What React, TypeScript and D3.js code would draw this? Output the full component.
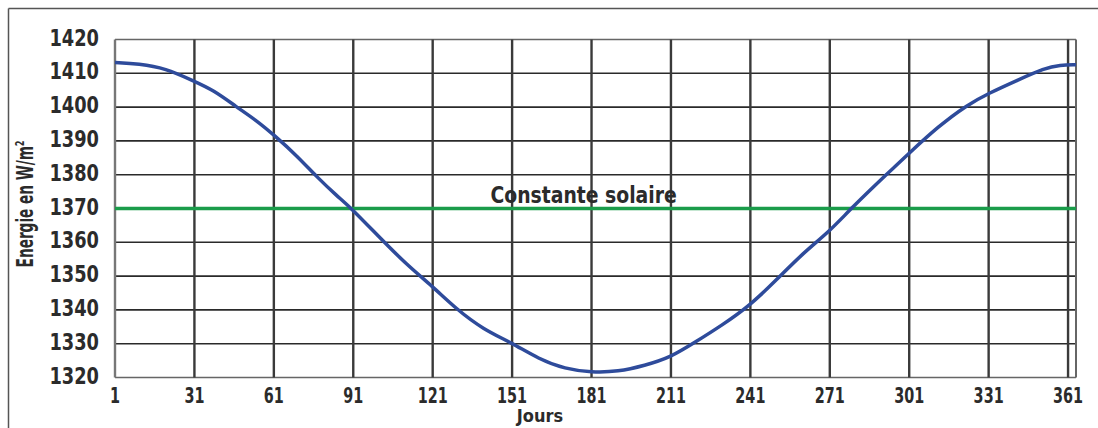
import * as d3 from 'd3';

// days of year and solar energy received (W/m²)
const DAYS = [1, 10, 20, 31, 38, 47, 54, 61, 70, 77, 85, 90, 101, 111, 121, 130, 140, 151, 161, 171, 181, 191, 201, 211, 220, 230, 241, 251, 261, 271, 279, 293, 301, 312, 323, 331, 342, 352, 358, 364];
const ENERGY = [1413.2, 1412.8, 1411.5, 1407.6, 1405.1, 1400, 1396.3, 1391.8, 1385.4, 1379.5, 1373.6, 1370.3, 1361.4, 1353.5, 1346.9, 1340.2, 1334.3, 1330.2, 1325.5, 1322.5, 1321.5, 1321.7, 1323.5, 1326, 1330.4, 1335.3, 1341.4, 1349, 1356.9, 1363.3, 1370, 1380.5, 1386.4, 1394.3, 1400.7, 1404.1, 1408, 1411.5, 1412.5, 1412.5];
const X_TICKS = [1, 31, 61, 91, 121, 151, 181, 211, 241, 271, 301, 331, 361];
const Y_TICKS = [1320, 1330, 1340, 1350, 1360, 1370, 1380, 1390, 1400, 1410, 1420];
const SOLAR_CONSTANT = 1370;
const SOLAR_LABEL = 'Constante solaire';
const X_TITLE = 'Jours';
const Y_TITLE = 'Energie en W/m';

const W = 1098;
const H = 428;
const FONT = '"DejaVu Sans Condensed", "DejaVu Sans", sans-serif';
const INK = '#2b2b2b';

// condensed bold label, squeezed with a scale like the original's narrow face
function Label({ x, y, sx = 1, sy = 1, size, anchor = 'middle', rotate = 0, children }: any) {
  return (
    <g transform={`translate(${x},${y}) rotate(${rotate}) scale(${sx},${sy})`}>
      <text textAnchor={anchor} fontFamily={FONT} fontWeight="bold" fontSize={size} fill={INK}>
        {children}
      </text>
    </g>
  );
}

export default function App() {
  const x = d3.scaleLinear().domain([1, 364]).range([115, 1076]);
  const y = d3.scaleLinear().domain([1320, 1420]).range([377.5, 39.5]);

  const points = DAYS.map((d, i) => [d, ENERGY[i]] as [number, number]);
  const line = d3.line<[number, number]>()
    .x(d => x(d[0]))
    .y(d => y(d[1]))
    .curve(d3.curveBasis);

  const [x0, x1] = x.range();

  return (
    <svg width={W} height={H} style={{ position: 'absolute', left: 0, top: 0, background: '#fff' }}>
      {/* outer frame */}
      <line x1={8.5} y1={8.5} x2={W} y2={8.5} stroke="#555" strokeWidth={1.5} />
      <line x1={8.5} y1={8.5} x2={8.5} y2={H} stroke="#555" strokeWidth={1.5} />

      {/* horizontal grid */}
      {Y_TICKS.map(t => (
        <line key={'h' + t} x1={x0} x2={x1} y1={y(t)} y2={y(t)}
          stroke={t === 1420 || t === 1320 ? '#666' : '#2a2a2a'} strokeWidth={1.6} />
      ))}
      {/* vertical grid */}
      {X_TICKS.map(t => (
        <line key={'v' + t} x1={x(t)} x2={x(t)} y1={y(1420)} y2={y(1320)}
          stroke={t === 1 ? '#777' : '#3a3a3a'} strokeWidth={2.4} />
      ))}
      <line x1={x1} x2={x1} y1={y(1420)} y2={y(1320)} stroke="#666" strokeWidth={2} />

      {/* solar constant */}
      <line x1={x0} x2={x1} y1={y(SOLAR_CONSTANT)} y2={y(SOLAR_CONSTANT)} stroke="#1a9c4a" strokeWidth={3.5} />
      <Label x={x(178)} y={y(SOLAR_CONSTANT) - 6} size={22} sx={0.95} sy={1.05}>{SOLAR_LABEL}</Label>

      {/* energy curve */}
      <path d={line(points) ?? ''} fill="none" stroke="#2e4b9b" strokeWidth={3.5} strokeLinejoin="round" />

      {/* y tick labels */}
      {Y_TICKS.map(t => (
        <Label key={'yl' + t} x={99} y={y(t) + 6} size={22} sx={0.9} sy={1.05} anchor="end">{t}</Label>
      ))}
      {/* x tick labels */}
      {X_TICKS.map(t => (
        <Label key={'xl' + t} x={x(t)} y={403} size={20} sx={0.8} sy={1.05}>{t}</Label>
      ))}

      <Label x={540} y={422} size={18} sx={1} sy={1}>{X_TITLE}</Label>
      <g transform="translate(33,204) rotate(-90) scale(0.66,1)">
        <text textAnchor="middle" fontFamily={FONT} fontWeight="bold" fontSize={23} fill={INK}>
          {Y_TITLE}<tspan dy={-9} fontSize={13}>2</tspan>
        </text>
      </g>
    </svg>
  );
}
